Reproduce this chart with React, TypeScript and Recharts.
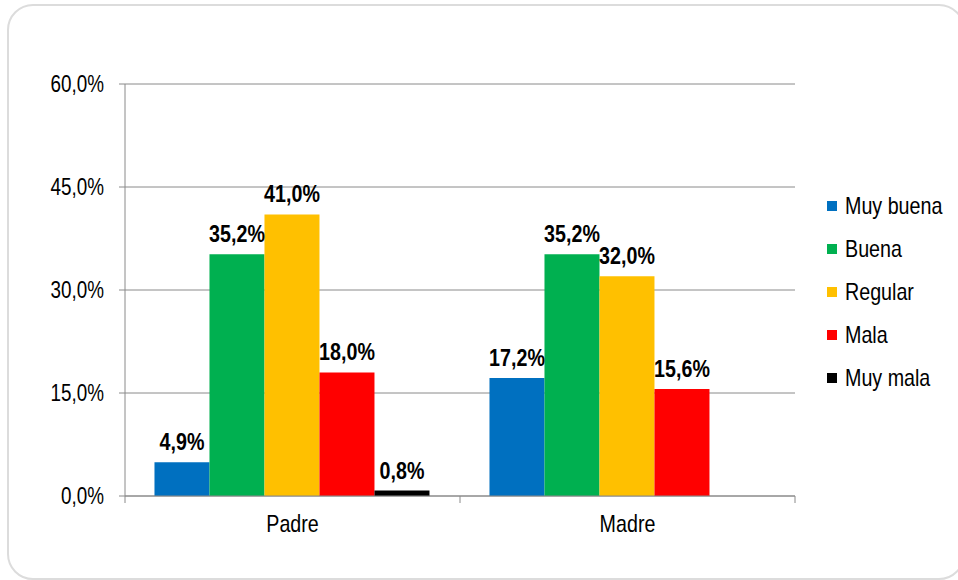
import { BarChart, Bar, XAxis, YAxis, CartesianGrid, LabelList } from "recharts";

// Valoración de la relación con padre / madre
const categories = ["Padre", "Madre"];
const seriesNames = ["Muy buena", "Buena", "Regular", "Mala", "Muy mala"];
const muyBuena = [4.9, 17.2];
const buena = [35.2, 35.2];
const regular = [41.0, 32.0];
const mala = [18.0, 15.6];
const muyMala: (number | null)[] = [0.8, null];
const yTicks = [0, 15, 30, 45, 60];

const colors = ["#0070C0", "#00B050", "#FFC000", "#FF0000", "#000000"];
const keys = ["muyBuena", "buena", "regular", "mala", "muyMala"];

const data = categories.map((name, i) => ({
  name,
  idx: i + 0.5,
  muyBuena: muyBuena[i],
  buena: buena[i],
  regular: regular[i],
  mala: mala[i],
  muyMala: muyMala[i],
}));

// no Arial Narrow available -> squeeze Liberation Sans horizontally
const FONT = "'Liberation Sans', Arial, sans-serif";
const SQUEEZE = 0.82;
const pct = (v: number) => v.toFixed(1).replace(".", ",") + "%";

function YTick(props: any) {
  const { x, y, payload } = props;
  return (
    <g transform={`translate(${x},${y})`}>
      <text transform={`scale(${SQUEEZE},1)`} textAnchor="end" dy="0.355em" fontSize={23} fill="#000" fontFamily={FONT}>
        {pct(payload.value)}
      </text>
    </g>
  );
}

function XTick(props: any) {
  const { x, y, payload } = props;
  return (
    <g transform={`translate(${x},${y})`}>
      <text transform={`scale(${SQUEEZE},1)`} textAnchor="middle" dy="0.71em" fontSize={24} fill="#000" fontFamily={FONT}>
        {payload.value}
      </text>
    </g>
  );
}

function BarLabel(props: any) {
  const { x, y, width, value } = props;
  if (value == null) return null;
  return (
    <g transform={`translate(${Number(x) + Number(width) / 2},${Number(y) - 12})`}>
      <text transform={`scale(${SQUEEZE},1)`} textAnchor="middle" fontSize={24} fontWeight={700} fill="#000" fontFamily={FONT}>
        {pct(Number(value))}
      </text>
    </g>
  );
}

function LegendBox() {
  return (
    <div style={{ position: "absolute", left: 827, top: 185, fontFamily: FONT, fontSize: 24, color: "#000" }}>
      {seriesNames.map((s, i) => (
        <div key={s} style={{ display: "flex", alignItems: "center", height: 42.8, whiteSpace: "nowrap" }}>
          <span style={{ width: 10, height: 10, background: colors[i], marginRight: 8, display: "inline-block" }} />
          <span style={{ display: "inline-block", transform: `scaleX(${SQUEEZE})`, transformOrigin: "left center" }}>{s}</span>
        </div>
      ))}
    </div>
  );
}

export default function App() {
  return (
    <div style={{ position: "absolute", left: 0, top: 0, width: 958, height: 580, background: "#fff", overflow: "hidden" }}>
      <div
        style={{
          position: "absolute",
          left: 7,
          top: 4,
          width: 958,
          height: 576,
          boxSizing: "border-box",
          border: "2px solid #dcdcdc",
          borderRadius: 26,
        }}
      />
      <div style={{ position: "absolute", left: 0, top: 0 }}>
        <BarChart
          width={958}
          height={580}
          data={data}
          margin={{ top: 84, right: 163, left: 0, bottom: 30 }}
          barCategoryGap="8.8%"
          barGap={0}
        >
          <CartesianGrid vertical={false} stroke="#8a8a8a" />
          <XAxis
            xAxisId="b"
            dataKey="name"
            height={47}
            axisLine={false}
            tickLine={false}
            tickMargin={6}
            tick={<XTick />}
          />
          <XAxis
            xAxisId="a"
            type="number"
            dataKey="idx"
            domain={[0, categories.length]}
            ticks={[0, 1, 2]}
            tick={() => <g />}
            height={7}
            tickSize={7}
            axisLine={{ stroke: "#8a8a8a" }}
            tickLine={{ stroke: "#8a8a8a" }}
          />
          <YAxis
            domain={[0, 60]}
            ticks={yTicks}
            width={125}
            tickSize={6}
            tickMargin={15}
            tick={<YTick />}
            axisLine={{ stroke: "#8a8a8a" }}
            tickLine={{ stroke: "#8a8a8a" }}
          />
          {keys.map((k, i) => (
            <Bar key={k} xAxisId="b" dataKey={k} name={seriesNames[i]} fill={colors[i]} isAnimationActive={false}>
              <LabelList dataKey={k} content={<BarLabel />} />
            </Bar>
          ))}
        </BarChart>
      </div>
      <LegendBox />
    </div>
  );
}
